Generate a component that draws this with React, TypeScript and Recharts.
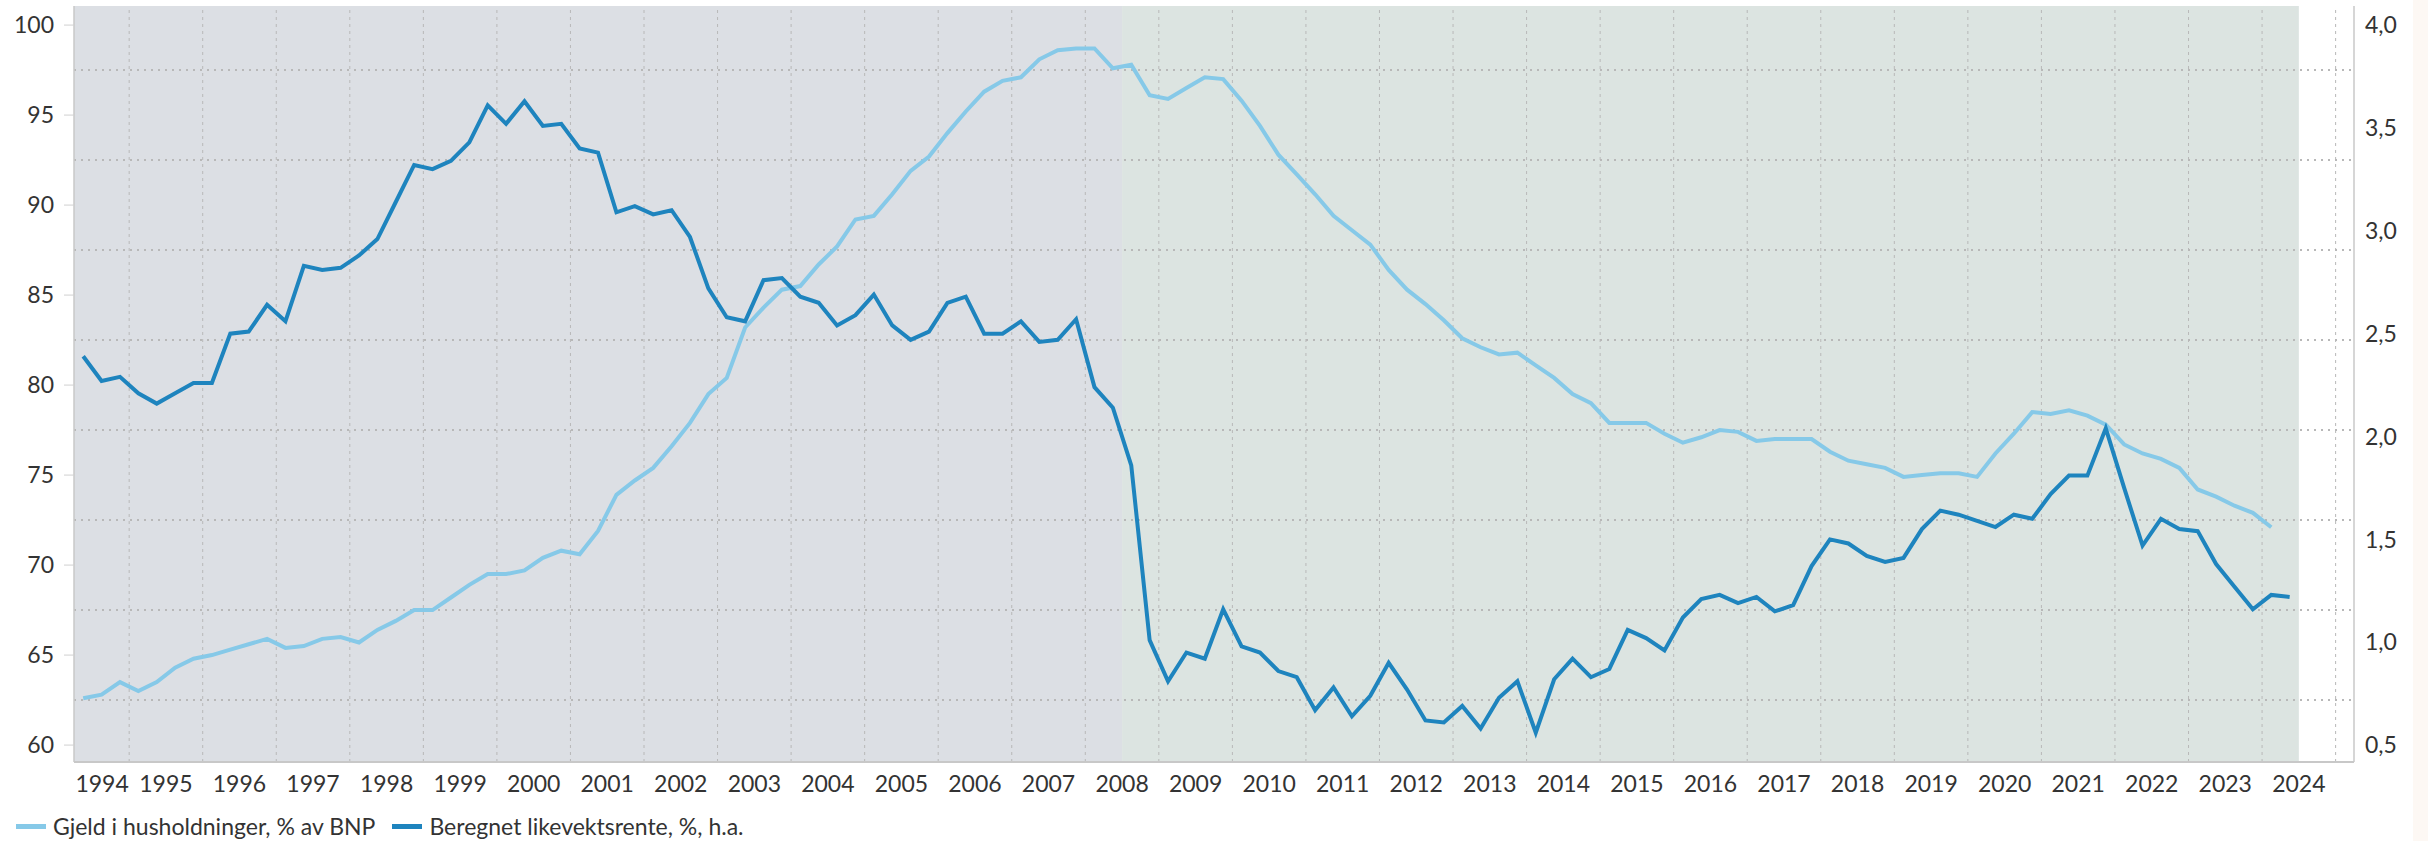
import React from "react";
import { LineChart, Line, XAxis, YAxis, ReferenceArea, ReferenceLine } from "recharts";

// Gjeld i husholdninger, % av BNP (venstre akse), 1994K1–2023K4
const gjeld: (number | null)[] = [
  62.6, 62.8, 63.5, 63.0, 63.5, 64.3, 64.8, 65.0, 65.3, 65.6, 65.9, 65.4,
  65.5, 65.9, 66.0, 65.7, 66.4, 66.9, 67.5, 67.5, 68.2, 68.9, 69.5, 69.5,
  69.7, 70.4, 70.8, 70.6, 71.9, 73.9, 74.7, 75.4, 76.6, 77.9, 79.5, 80.4,
  83.2, 84.3, 85.3, 85.5, 86.7, 87.7, 89.2, 89.4, 90.6, 91.9, 92.7, 94.0,
  95.2, 96.3, 96.9, 97.1, 98.1, 98.6, 98.7, 98.7, 97.6, 97.8, 96.1, 95.9,
  96.5, 97.1, 97.0, 95.8, 94.4, 92.8, 91.7, 90.6, 89.4, 88.6, 87.8, 86.4,
  85.3, 84.5, 83.6, 82.6, 82.1, 81.7, 81.8, 81.1, 80.4, 79.5, 79.0, 77.9,
  77.9, 77.9, 77.3, 76.8, 77.1, 77.5, 77.4, 76.9, 77.0, 77.0, 77.0, 76.3,
  75.8, 75.6, 75.4, 74.9, 75.0, 75.1, 75.1, 74.9, 76.2, 77.3, 78.5, 78.4,
  78.6, 78.3, 77.8, 76.7, 76.2, 75.9, 75.4, 74.2, 73.8, 73.3, 72.9, 72.1,
  null,
];

// Beregnet likevektsrente, % (høyre akse), 1994K1–2024K1
const likevektsrente: number[] = [
  2.39, 2.27, 2.29, 2.21, 2.16, 2.21, 2.26, 2.26, 2.50, 2.51, 2.64, 2.56,
  2.83, 2.81, 2.82, 2.88, 2.96, 3.14, 3.32, 3.30, 3.34, 3.43, 3.61, 3.52,
  3.63, 3.51, 3.52, 3.40, 3.38, 3.09, 3.12, 3.08, 3.10, 2.97, 2.72, 2.58,
  2.56, 2.76, 2.77, 2.68, 2.65, 2.54, 2.59, 2.69, 2.54, 2.47, 2.51, 2.65,
  2.68, 2.50, 2.50, 2.56, 2.46, 2.47, 2.57, 2.24, 2.14, 1.86, 1.01, 0.81,
  0.95, 0.92, 1.16, 0.98, 0.95, 0.86, 0.83, 0.67, 0.78, 0.64, 0.74, 0.90,
  0.77, 0.62, 0.61, 0.69, 0.58, 0.73, 0.81, 0.56, 0.82, 0.92, 0.83, 0.87,
  1.06, 1.02, 0.96, 1.12, 1.21, 1.23, 1.19, 1.22, 1.15, 1.18, 1.37, 1.50,
  1.48, 1.42, 1.39, 1.41, 1.55, 1.64, 1.62, 1.59, 1.56, 1.62, 1.60, 1.72,
  1.81, 1.81, 2.04, 1.75, 1.47, 1.60, 1.55, 1.54, 1.38, 1.27, 1.16, 1.23,
  1.22,
];

const firstYear = 1994;

const yearTicks = [
  1994, 1995, 1996, 1997, 1998, 1999, 2000, 2001, 2002, 2003, 2004, 2005,
  2006, 2007, 2008, 2009, 2010, 2011, 2012, 2013, 2014, 2015, 2016, 2017,
  2018, 2019, 2020, 2021, 2022, 2023, 2024,
];
const leftTicks = [60, 65, 70, 75, 80, 85, 90, 95, 100];
const rightTicks = [0.5, 1.0, 1.5, 2.0, 2.5, 3.0, 3.5, 4.0];
const gridLevels = [62.5, 67.5, 72.5, 77.5, 82.5, 87.5, 92.5, 97.5];
const gridYears = yearTicks.map((y) => y + 0.5);

const periods = [
  { from: 1993.75, to: 2008, fill: "#DCDFE4" },
  { from: 2008, to: 2024, fill: "#DCE4E1" },
];

const LIGHT = "#86C9E8";
const DARK = "#1E84BE";
const FONT = "Lato, 'Open Sans', sans-serif";

// each quarter is plotted 1/8 year before its nominal position
const data = likevektsrente.map((r, i) => {
  const year = firstYear + Math.floor(i / 4);
  const q = (i % 4) + 1;
  return {
    kvartal: `${year}K${q}`,
    t: year + (q - 1) / 4 - 0.125,
    gjeld: gjeld[i] ?? null,
    rente: r,
  };
});

const fmtComma = (v: number) => v.toFixed(1).replace(".", ",");

const YearTick = (props: any) => {
  const { x, y, payload, index } = props;
  const first = index === 0;
  return (
    <text
      x={first ? x - 17 : x}
      y={y}
      dy={20}
      textAnchor={first ? "start" : "middle"}
      fill="#333"
      fontSize={23}
      fontFamily={FONT}
    >
      {payload.value}
    </text>
  );
};

export default function App() {
  return (
    <div style={{ position: "relative", width: 2428, height: 841, background: "#fff", fontFamily: FONT }}>
      <style>{"body{margin:0}"}</style>
      <div style={{ position: "absolute", left: 2413, top: 0, width: 15, height: 841, background: "#FDF8F4" }} />
      <LineChart width={2428} height={841} data={data} margin={{ top: 6, right: 0, left: 0, bottom: 0 }}>
        {periods.map((p) => (
          <ReferenceArea
            key={p.from}
            x1={p.from}
            x2={p.to}
            yAxisId="left"
            fill={p.fill}
            fillOpacity={1}
            stroke="none"
            ifOverflow="hidden"
          />
        ))}
        {gridYears.map((g) => (
          <ReferenceLine key={"v" + g} x={g} yAxisId="left" stroke="#B8B8B8" strokeWidth={1} strokeDasharray="3 4" />
        ))}
        {gridLevels.map((g) => (
          <ReferenceLine key={"h" + g} y={g} yAxisId="left" stroke="#B8B8B8" strokeWidth={2} strokeDasharray="2 5" />
        ))}
        <XAxis
          dataKey="t"
          type="number"
          domain={[1993.75, 2024.75]}
          allowDataOverflow
          ticks={yearTicks}
          interval={0}
          height={79}
          tickLine={false}
          tickSize={0}
          tickMargin={10}
          axisLine={{ stroke: "#C8C8C8", strokeWidth: 2 }}
          tick={<YearTick />}
        />
        <YAxis
          yAxisId="left"
          orientation="left"
          width={74}
          domain={[59.06, 101.06]}
          allowDataOverflow
          ticks={leftTicks}
          interval={0}
          tickSize={10}
          tickMargin={10}
          tickLine={{ stroke: "#D0D0D0" }}
          axisLine={{ stroke: "#C8C8C8", strokeWidth: 1.5 }}
          tick={{ fill: "#333", fontSize: 23, fontFamily: FONT }}
        />
        <YAxis
          yAxisId="right"
          orientation="right"
          width={74}
          domain={[0.4178, 4.0928]}
          allowDataOverflow
          ticks={rightTicks}
          interval={0}
          tickSize={0}
          tickMargin={11}
          tickLine={false}
          axisLine={{ stroke: "#C8C8C8", strokeWidth: 1.5 }}
          tick={{ fill: "#333", fontSize: 23, fontFamily: FONT, textAnchor: "start" }}
          tickFormatter={fmtComma}
        />
        <Line
          yAxisId="left"
          type="linear"
          dataKey="gjeld"
          stroke={LIGHT}
          strokeWidth={4}
          dot={false}
          isAnimationActive={false}
        />
        <Line
          yAxisId="right"
          type="linear"
          dataKey="rente"
          stroke={DARK}
          strokeWidth={4}
          dot={false}
          isAnimationActive={false}
        />
      </LineChart>
      <div
        style={{
          position: "absolute",
          left: 16,
          top: 813,
          height: 26,
          display: "flex",
          alignItems: "center",
          fontSize: 23,
          color: "#333",
          whiteSpace: "nowrap",
        }}
      >
        <span style={{ display: "inline-block", width: 30, height: 5, background: LIGHT, marginRight: 7 }} />
        <span style={{ marginRight: 17 }}>Gjeld i husholdninger, % av BNP</span>
        <span style={{ display: "inline-block", width: 30, height: 5, background: DARK, marginRight: 7 }} />
        <span>Beregnet likevektsrente, %, h.a.</span>
      </div>
    </div>
  );
}
